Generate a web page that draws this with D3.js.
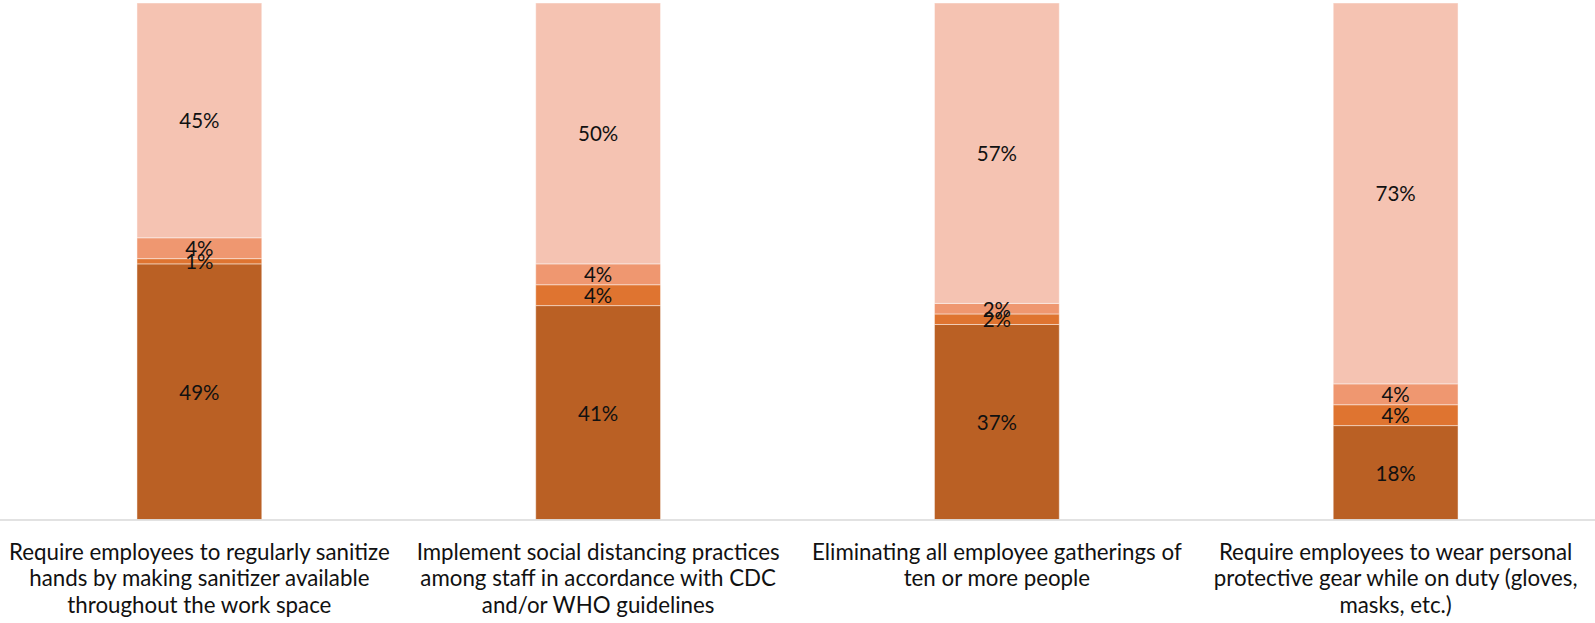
<!DOCTYPE html>
<html>
<head>
<meta charset="utf-8">
<script src="https://cdn.jsdelivr.net/npm/d3@7"></script>
<style>
  html, body { margin: 0; padding: 0; background: #fff; }
  svg { display: block; font-family: Lato, "Open Sans", sans-serif; }
</style>
</head>
<body>
<svg id="chart" width="1595" height="623"></svg>
<script>
// Category labels, one array entry per wrapped line
const categories = [
  ["Require employees to regularly sanitize", "hands by making sanitizer available", "throughout the work space"],
  ["Implement social distancing practices", "among staff in accordance with CDC", "and/or WHO guidelines"],
  ["Eliminating all employee gatherings of", "ten or more people"],
  ["Require employees to wear personal", "protective gear while on duty (gloves,", "masks, etc.)"]
];

// Stacked series values (percent), bottom to top
const seriesKeys = ["s1", "s2", "s3", "s4"];
const s1 = [49, 41, 37, 18];
const s2 = [1, 4, 2, 4];
const s3 = [4, 4, 2, 4];
const s4 = [45, 50, 57, 73];
const seriesColors = ["#BA6024", "#DF7430", "#EF9770", "#F5C3B2"];

const rows = categories.map((c, i) => ({
  idx: i, s1: s1[i], s2: s2[i], s3: s3[i], s4: s4[i]
}));

const W = 1595, H = 623;
const baseY = 519.5, topY = 3;
const svg = d3.select("#chart");

const x = d3.scaleBand()
  .domain(rows.map(d => d.idx))
  .range([0, W])
  .paddingInner(0.687)
  .paddingOuter(0.3435);

// 100% stacked columns
const y = d3.scaleLinear().domain([0, 1]).range([baseY, topY]);

const stack = d3.stack().keys(seriesKeys).offset(d3.stackOffsetExpand);
const layers = stack(rows);

const color = d3.scaleOrdinal().domain(seriesKeys).range(seriesColors);

const g = svg.append("g");

layers.forEach(layer => {
  const lg = g.append("g");
  lg.selectAll("rect")
    .data(layer)
    .join("rect")
    .attr("x", d => x(d.data.idx))
    .attr("width", x.bandwidth())
    .attr("y", d => y(d[1]))
    .attr("height", d => y(d[0]) - y(d[1]))
    .attr("fill", color(layer.key))
    .attr("stroke", "rgba(255,255,255,0.45)")
    .attr("stroke-width", 1);
});

// Horizontal axis line
svg.append("line")
  .attr("x1", 0).attr("x2", W)
  .attr("y1", baseY + 0.5).attr("y2", baseY + 0.5)
  .attr("stroke", "#D9D9D9")
  .attr("stroke-width", 1.5);

// Value labels centred in each segment
layers.forEach(layer => {
  g.append("g").selectAll("text")
    .data(layer)
    .join("text")
    .attr("x", d => x(d.data.idx) + x.bandwidth() / 2)
    .attr("y", d => (y(d[0]) + y(d[1])) / 2)
    .attr("text-anchor", "middle")
    .attr("dominant-baseline", "central")
    .attr("font-size", 20.5)
    .attr("fill", "#111")
    .text(d => d.data[layer.key] + "%");
});

// Category labels below the axis
const lab = svg.append("g");
rows.forEach((d, i) => {
  const t = lab.append("text")
    .attr("text-anchor", "middle")
    .attr("font-size", 22.3)
    .attr("fill", "#111");
  categories[i].forEach((line, k) => {
    t.append("tspan")
      .attr("x", x(d.idx) + x.bandwidth() / 2)
      .attr("y", 560 + k * 26.3)
      .text(line);
  });
});
</script>
</body>
</html>
